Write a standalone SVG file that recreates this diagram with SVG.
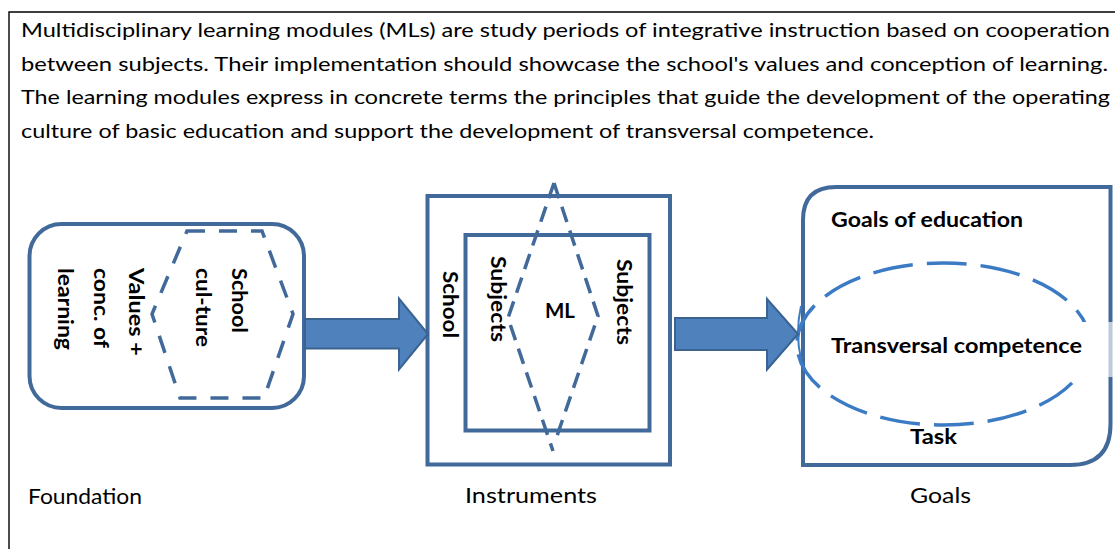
<svg xmlns="http://www.w3.org/2000/svg" width="1115" height="549" viewBox="0 0 1115 549">
  <style>
    .intro { font-family: Lato, "Liberation Sans", sans-serif; font-size: 19px; fill: #000; }
    .lbl { font-family: Lato, "Liberation Sans", sans-serif; font-size: 21.5px; font-weight: bold; fill: #000; }
    .cap { font-family: Lato, "Liberation Sans", sans-serif; font-size: 21.5px; fill: #000; }
    .frame { fill: none; stroke: #41699a; stroke-width: 4; }
    .dash { fill: none; stroke: #41699a; stroke-width: 3.5; }
    .arrow { fill: #4f81bd; stroke: #3a6391; stroke-width: 2; stroke-linejoin: miter; }
  </style>

  <!-- page border -->
  <path d="M9,549 V12 H1115" fill="none" stroke="#000" stroke-width="1.4"/>

  <!-- introductory paragraph -->
  <g id="intro">
    <text class="intro" x="21" y="37" textLength="1089" lengthAdjust="spacingAndGlyphs">Multidisciplinary learning modules (MLs) are study periods of integrative instruction based on cooperation</text>
    <text class="intro" x="21" y="70.5" textLength="1087" lengthAdjust="spacingAndGlyphs">between subjects. Their implementation should showcase the school's values and conception of learning.</text>
    <text class="intro" x="21" y="104" textLength="1089" lengthAdjust="spacingAndGlyphs">The learning modules express in concrete terms the principles that guide the development of the operating</text>
    <text class="intro" x="21" y="137.5" textLength="853" lengthAdjust="spacingAndGlyphs">culture of basic education and support the development of transversal competence.</text>
  </g>

  <!-- Foundation -->
  <g id="foundation">
    <rect class="frame" x="29.5" y="224" width="274.5" height="184" rx="32" ry="32"/>
    <polygon class="dash" stroke-dasharray="18 14" points="187,231 262,231 293,314 264,398 180,398 152,314"/>
    <text class="lbl" transform="translate(232,268) rotate(90)" textLength="65" lengthAdjust="spacingAndGlyphs">School</text>
    <text class="lbl" transform="translate(196,268) rotate(90)" textLength="79" lengthAdjust="spacingAndGlyphs">cul-ture</text>
    <text class="lbl" transform="translate(129,268) rotate(90)" textLength="88" lengthAdjust="spacingAndGlyphs">Values +</text>
    <text class="lbl" transform="translate(94,268) rotate(90)" textLength="80" lengthAdjust="spacingAndGlyphs">conc. of</text>
    <text class="lbl" transform="translate(58,268) rotate(90)" textLength="82" lengthAdjust="spacingAndGlyphs">learning</text>
    <text class="cap" x="28" y="504" textLength="114" lengthAdjust="spacingAndGlyphs">Foundation</text>
  </g>

  <!-- Instruments -->
  <g id="instruments">
    <rect class="frame" x="427.5" y="196" width="242.5" height="268.5"/>
    <rect class="frame" x="465.5" y="235" width="184" height="195.5"/>
    <path class="dash" stroke-dasharray="16 9" d="M554,183 L508,318 L553,451"/>
    <path class="dash" stroke-dasharray="16 9" d="M554,183 L598,316 L557,436"/>
    <text class="lbl" transform="translate(443,271) rotate(90)" textLength="67" lengthAdjust="spacingAndGlyphs">School</text>
    <text class="lbl" transform="translate(491,256) rotate(90)" textLength="86" lengthAdjust="spacingAndGlyphs">Subjects</text>
    <text class="lbl" transform="translate(617,259) rotate(90)" textLength="86" lengthAdjust="spacingAndGlyphs">Subjects</text>
    <text class="lbl" x="545" y="318" textLength="30" lengthAdjust="spacingAndGlyphs">ML</text>
    <text class="cap" x="465" y="503" textLength="132" lengthAdjust="spacingAndGlyphs">Instruments</text>
  </g>

  <!-- Goals -->
  <g id="goals">
    <path class="frame" d="M803,465 V220 Q803,187 836,187 H1110.5 V424 Q1110.5,465 1070,465 Z"/>
    <ellipse cx="943.5" cy="344" rx="146.5" ry="81" fill="none" stroke="#3b7bc4" stroke-width="3.5" stroke-dasharray="40 14" stroke-dashoffset="10"/>
    <path d="M801,306 Q795,333 801,359" fill="none" stroke="#3b7bc4" stroke-width="2"/>
    <rect x="1040" y="322" width="68" height="55" fill="#fff"/>
    <rect x="1108" y="322" width="5" height="55" fill="#fff" fill-opacity="0.65"/>
    <text class="lbl" x="831" y="227" textLength="192" lengthAdjust="spacingAndGlyphs">Goals of education</text>
    <text class="lbl" x="831" y="353" textLength="251" lengthAdjust="spacingAndGlyphs">Transversal competence</text>
    <text class="lbl" x="910" y="444" textLength="47" lengthAdjust="spacingAndGlyphs">Task</text>
    <text class="cap" x="910" y="503" textLength="61" lengthAdjust="spacingAndGlyphs">Goals</text>
  </g>

  <!-- block arrows between stages -->
  <g id="connectors">
    <polygon class="arrow" points="305,319 399,319 399,298.5 428,334 399,369.5 399,348.5 305,348.5"/>
    <polygon class="arrow" points="675,318 767,318 767,299 798,334 767,369.5 767,350 675,350"/>
  </g>
</svg>
